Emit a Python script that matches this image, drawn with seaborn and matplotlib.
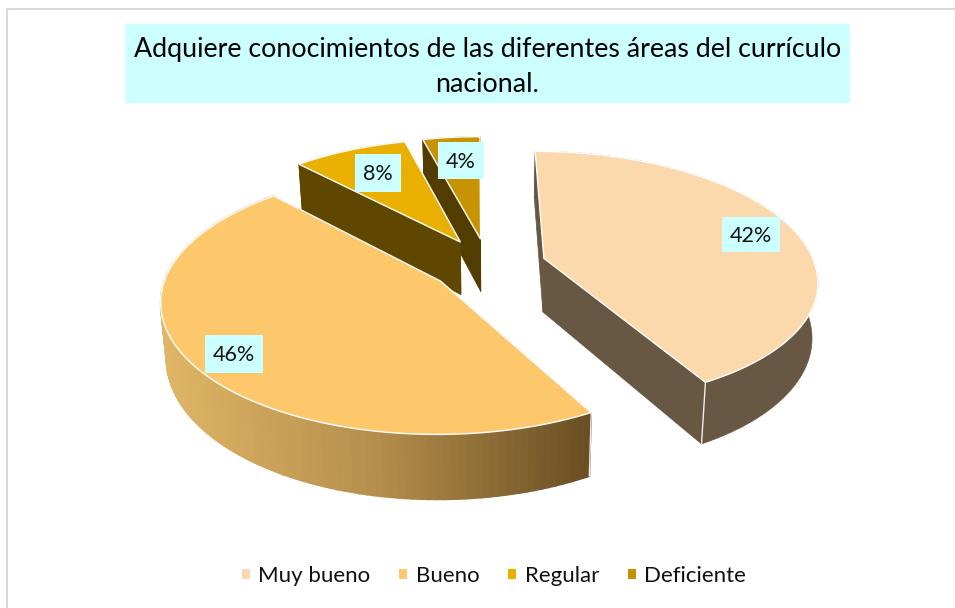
import numpy as np
import matplotlib
matplotlib.use("Agg")
import matplotlib.pyplot as plt
from matplotlib.patches import Patch, Rectangle
import seaborn as sns

categories = ["Muy bueno", "Bueno", "Regular", "Deficiente"]
values = [42, 46, 8, 4]
top_colors = ["#FBD9AD", "#FDC76C", "#E9B000", "#C79300"]
wall_colors = ["#675743", "#6B5024", "#5F4700", "#523C00"]
title = "Adquiere conocimientos de las diferentes áreas del currículo\nnacional."

sns.set_theme(style="white")
plt.rcParams["font.family"] = ["Lato", "DejaVu Sans"]

# pie geometry, in pixels of the figure
cx, cy = 488, 265
rx, ry = 271, 125
explode = 0.215
persp = 0.15
depth = 54
shrink = 0.982
wall_blend = sns.blend_palette(["#E0B566", "#B68F4C", "#6A4F24"], 200)


def project(x, y, low=False):
    s = 1 / (1 + persp * y)
    # the front of the pie leans a bit to the right
    px = rx * x * s - np.where(y < 0, 5, 1.5) * y
    py = ry * y * s
    if low:
        return cx + px * shrink, cy - py + depth * s
    return cx + px, cy - py


fig = plt.figure(figsize=(9.55, 6.08), dpi=100)
ax = fig.add_axes([0, 0, 1, 1])
ax.set_xlim(0, 955)
ax.set_ylim(608, 0)
ax.axis("off")

# frame of the chart (only top and left show)
ax.plot([7, 7, 955], [608, 9, 9], color="#D9D9D9", lw=1.5)

# slices go clockwise from 12 o'clock
edges = np.cumsum([0] + values) / sum(values) * 2 * np.pi
slices = []
for i in range(len(values)):
    a0, a1 = edges[i], edges[i + 1]
    mid = (a0 + a1) / 2
    ox, oy = explode * np.sin(mid), explode * np.cos(mid)
    ang = np.linspace(a0, a1, 120)
    xs = ox + np.sin(ang)
    ys = oy + np.cos(ang)
    slices.append((i, ox, oy, xs, ys))

# back to front so Bueno covers the wall of Regular
for i, ox, oy, xs, ys in [slices[3], slices[2], slices[0], slices[1]]:
    top_x, top_y = project(xs, ys)
    low_x, low_y = project(xs, ys, low=True)
    ax_, ay_ = project(ox, oy)
    bx_, by_ = project(ox, oy, low=True)

    # straight walls
    for k in (0, -1):
        ax.fill([ax_, top_x[k], low_x[k], bx_], [ay_, top_y[k], low_y[k], by_],
                color=wall_colors[i], lw=0.5, zorder=2)

    # outer wall
    if i == 1:
        for k in range(len(xs) - 1):
            t = (top_x[k] - 160) / (590 - 160)
            c = wall_blend[int(np.clip(t, 0, 1) * 199)]
            ax.fill([top_x[k], top_x[k + 1], low_x[k + 1], low_x[k]],
                    [top_y[k], top_y[k + 1], low_y[k + 1], low_y[k]],
                    color=c, lw=1.2, zorder=2)
    else:
        ax.fill(np.r_[top_x, low_x[::-1]], np.r_[top_y, low_y[::-1]],
                color=wall_colors[i], lw=0.5, zorder=2)

    # white line on the front corners
    for k in (0, -1):
        if ys[k] < 0:
            ax.plot([top_x[k], low_x[k]], [top_y[k], low_y[k]], color="#EDEDED", lw=1, zorder=3)

    # top face
    ax.fill(np.r_[ax_, top_x], np.r_[ay_, top_y], facecolor=top_colors[i],
            edgecolor="white", lw=1, zorder=3)

# percentage labels
label_boxes = [(722, 217, 58, 35), (205, 335, 58, 38), (355, 154, 46, 38), (438, 142, 46, 37)]
for v, (bx, by, bw, bh) in zip(values, label_boxes):
    ax.add_patch(Rectangle((bx, by), bw, bh, facecolor="#CCFFFF", edgecolor="none", zorder=4))
    ax.text(bx + bw / 2, by + bh / 2 + 1, f"{v}%", ha="center", va="center",
            fontsize=15.5, color="#111111", zorder=5)

# title
ax.add_patch(Rectangle((125, 24), 725, 79, facecolor="#CCFFFF", edgecolor="none", zorder=4))
ax.text(487.5, 67, title, ha="center", va="center", fontsize=19.3, color="black",
        linespacing=1.5, zorder=5)

# legend
handles = [Patch(facecolor=c, edgecolor="none", label=n) for c, n in zip(top_colors, categories)]
ax.legend(handles=handles, ncol=4, loc="center", bbox_to_anchor=(494, 576),
          bbox_transform=ax.transData, frameon=False, fontsize=16,
          handlelength=0.36, handleheight=0.36, handletextpad=0.38, columnspacing=1.3,
          labelcolor="#111111")

fig.savefig("out.png", dpi=100)
